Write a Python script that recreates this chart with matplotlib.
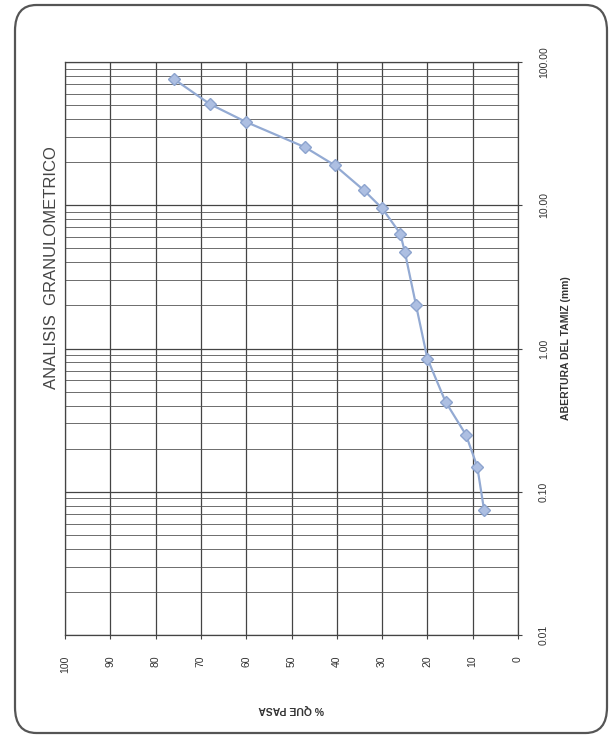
import matplotlib.pyplot as plt
from matplotlib.patches import FancyBboxPatch
from matplotlib.ticker import LogLocator, FixedLocator, NullFormatter

# abertura del tamiz (mm) y % que pasa
abertura = [76.2, 50.8, 38.1, 25.4, 19.05, 12.7, 9.525, 6.35, 4.75, 2.0, 0.85, 0.425, 0.25, 0.15, 0.075]
pasa = [76, 68, 60, 47, 40.5, 34, 30, 26, 25, 22.5, 20, 16, 11.5, 9, 7.5]

pct_ticks = [100, 90, 80, 70, 60, 50, 40, 30, 20, 10, 0]
size_ticks = [0.01, 0.1, 1, 10, 100]
size_labels = ["0.01", "0.10", "1.00", "10.00", "100.00"]

plt.rcParams['font.family'] = ['Liberation Sans', 'DejaVu Sans']

fig = plt.figure(figsize=(6.11, 7.37), dpi=100)

# marco redondeado
marco = FancyBboxPatch((15 / 611, 4 / 737), 592 / 611, 728 / 737,
                       boxstyle="round,pad=0,rounding_size=0.035",
                       transform=fig.transFigure, fill=False,
                       edgecolor="#555555", lw=1.6)
fig.patches.append(marco)

ax = fig.add_axes([65 / 611, 1 - 635 / 737, (518 - 65) / 611, (635 - 62) / 737])

ax.plot(pasa, abertura, color="#93AAD3", lw=1.6, marker="D", ms=6,
        markerfacecolor="#ADBFE2", markeredgecolor="#8DA4CE", zorder=3)

ax.set_yscale("log")
ax.set_ylim(0.01, 100)
ax.set_xlim(100, 0)

ax.xaxis.set_major_locator(FixedLocator(pct_ticks))
ax.set_xticklabels([str(t) for t in pct_ticks], rotation=90, fontsize=7.5, color="#333333")

ax.yaxis.set_major_locator(FixedLocator(size_ticks))
ax.yaxis.set_minor_locator(LogLocator(base=10, subs=range(2, 10)))
ax.yaxis.set_minor_formatter(NullFormatter())
ax.set_yticklabels(size_labels, rotation=90, fontsize=7.5, color="#333333", va="center")
ax.yaxis.tick_right()
ax.yaxis.set_label_position("right")

ax.grid(True, which="major", color="#444444", lw=0.9)
ax.grid(True, which="minor", axis="y", color="#555555", lw=0.6)
ax.tick_params(axis="x", which="major", length=3, color="#444444", pad=12)
ax.tick_params(axis="y", which="major", length=3, color="#444444", pad=12)
ax.tick_params(axis="y", which="minor", length=0)
for s in ax.spines.values():
    s.set_color("#444444")
    s.set_linewidth(0.9)

ax.set_xlabel("% QUE PASA", rotation=180, fontsize=7.5, fontweight="bold", color="#333333", labelpad=22)
ax.set_ylabel("ABERTURA DEL TAMIZ (mm)", rotation=90, fontsize=7.5, fontweight="bold", color="#333333", labelpad=9)

fig.text(52 / 611, 1 - 268 / 737, "ANALISIS  GRANULOMETRICO", rotation=90,
         fontsize=12, color="#444444", ha="center", va="center")

fig.savefig("out.png", dpi=100)
